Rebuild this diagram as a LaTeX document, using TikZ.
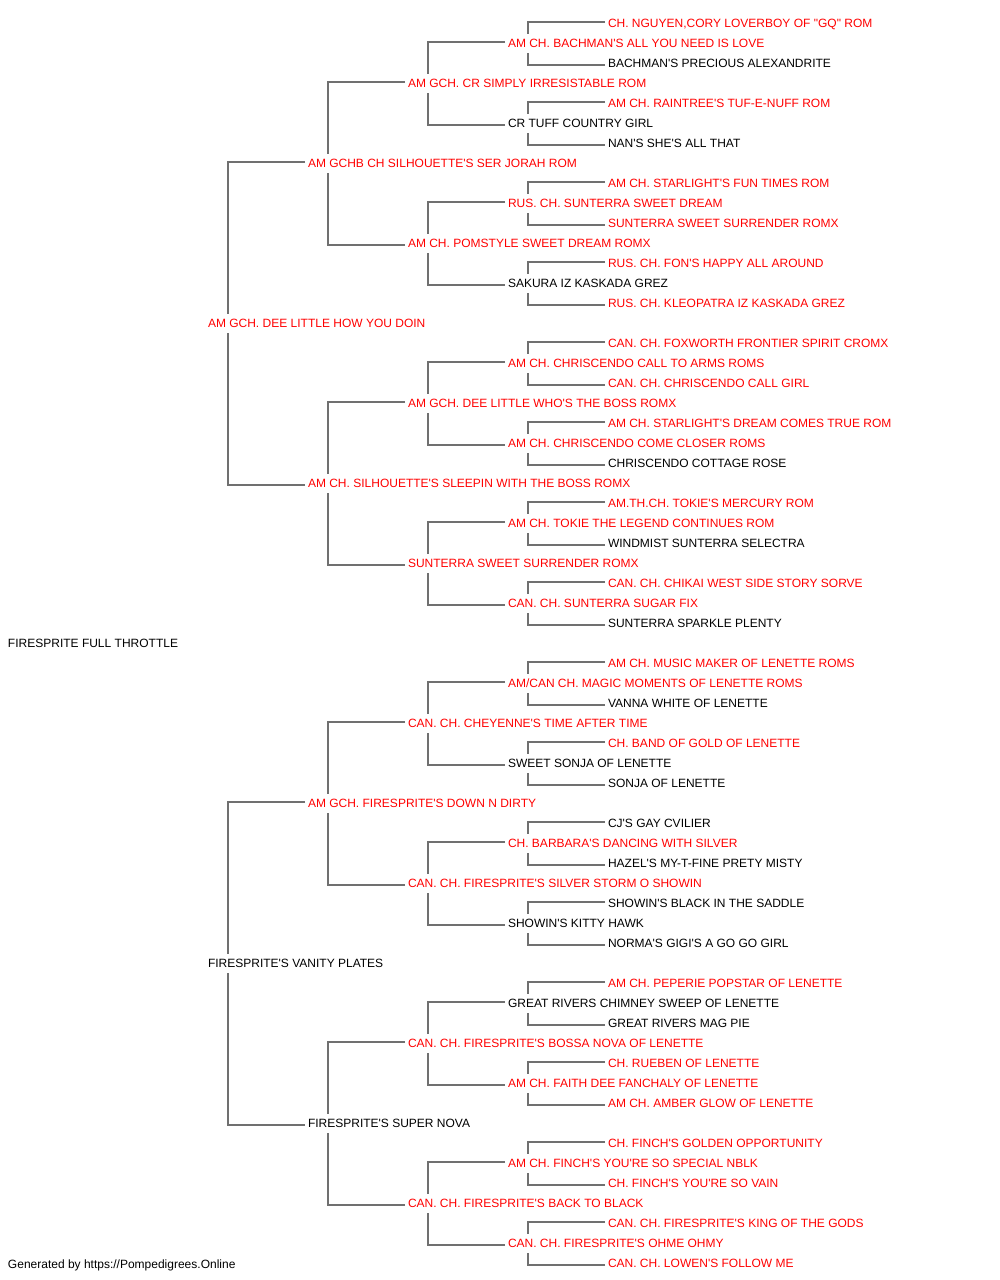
\documentclass[tikz,border=0pt]{standalone}
\usepackage{fontspec}
\newfontfamily\pedfont{Liberation Sans}
\definecolor{pedred}{HTML}{FF0000}
\definecolor{linegray}{HTML}{707070}
\tikzset{
  dog/.style={anchor=west, inner xsep=0pt, inner ysep=5pt, outer sep=0pt,
    text height=8.6pt, text depth=0pt, font=\pedfont\fontsize{12}{14}\selectfont},
  champ/.style={dog, text=pedred},
  link/.style={draw=linegray, line width=1.6pt}
}

\begin{document}
\begin{tikzpicture}[x=1pt,y=-1pt]
\useasboundingbox (0,0) rectangle (1000,1280);
% dog and its ancestors
\node[dog] (r) at (8,643.5) {FIRESPRITE FULL THROTTLE};

\node[champ] (s) at (208,323.5) {AM GCH. DEE LITTLE HOW YOU DOIN};
\node[dog]   (d) at (208,963.5) {FIRESPRITE'S VANITY PLATES};

\node[champ] (ss) at (308,163.5)  {AM GCHB CH SILHOUETTE'S SER JORAH ROM};
\node[champ] (sd) at (308,483.5)  {AM CH. SILHOUETTE'S SLEEPIN WITH THE BOSS ROMX};
\node[champ] (ds) at (308,803.5)  {AM GCH. FIRESPRITE'S DOWN N DIRTY};
\node[dog]   (dd) at (308,1123.5) {FIRESPRITE'S SUPER NOVA};

\node[champ] (sss) at (408,83.5)   {AM GCH. CR SIMPLY IRRESISTABLE ROM};
\node[champ] (ssd) at (408,243.5)  {AM CH. POMSTYLE SWEET DREAM ROMX};
\node[champ] (sds) at (408,403.5)  {AM GCH. DEE LITTLE WHO'S THE BOSS ROMX};
\node[champ] (sdd) at (408,563.5)  {SUNTERRA SWEET SURRENDER ROMX};
\node[champ] (dss) at (408,723.5)  {CAN. CH. CHEYENNE'S TIME AFTER TIME};
\node[champ] (dsd) at (408,883.5)  {CAN. CH. FIRESPRITE'S SILVER STORM O SHOWIN};
\node[champ] (dds) at (408,1043.5) {CAN. CH. FIRESPRITE'S BOSSA NOVA OF LENETTE};
\node[champ] (ddd) at (408,1203.5) {CAN. CH. FIRESPRITE'S BACK TO BLACK};

\node[champ] (ssss) at (508,43.5)   {AM CH. BACHMAN'S ALL YOU NEED IS LOVE};
\node[dog]   (sssd) at (508,123.5)  {CR TUFF COUNTRY GIRL};
\node[champ] (ssds) at (508,203.5)  {RUS. CH. SUNTERRA SWEET DREAM};
\node[dog]   (ssdd) at (508,283.5)  {SAKURA IZ KASKADA GREZ};
\node[champ] (sdss) at (508,363.5)  {AM CH. CHRISCENDO CALL TO ARMS ROMS};
\node[champ] (sdsd) at (508,443.5)  {AM CH. CHRISCENDO COME CLOSER ROMS};
\node[champ] (sdds) at (508,523.5)  {AM CH. TOKIE THE LEGEND CONTINUES ROM};
\node[champ] (sddd) at (508,603.5)  {CAN. CH. SUNTERRA SUGAR FIX};
\node[champ] (dsss) at (508,683.5)  {AM/CAN CH. MAGIC MOMENTS OF LENETTE ROMS};
\node[dog]   (dssd) at (508,763.5)  {SWEET SONJA OF LENETTE};
\node[champ] (dsds) at (508,843.5)  {CH. BARBARA'S DANCING WITH SILVER};
\node[dog]   (dsdd) at (508,923.5)  {SHOWIN'S KITTY HAWK};
\node[dog]   (ddss) at (508,1003.5) {GREAT RIVERS CHIMNEY SWEEP OF LENETTE};
\node[champ] (ddsd) at (508,1083.5) {AM CH. FAITH DEE FANCHALY OF LENETTE};
\node[champ] (ddds) at (508,1163.5) {AM CH. FINCH'S YOU'RE SO SPECIAL NBLK};
\node[champ] (dddd) at (508,1243.5) {CAN. CH. FIRESPRITE'S OHME OHMY};

\node[champ] (sssss) at (608,23.5)   {CH. NGUYEN,CORY LOVERBOY OF "GQ" ROM};
\node[dog]   (ssssd) at (608,63.5)   {BACHMAN'S PRECIOUS ALEXANDRITE};
\node[champ] (sssds) at (608,103.5)  {AM CH. RAINTREE'S TUF-E-NUFF ROM};
\node[dog]   (sssdd) at (608,143.5)  {NAN'S SHE'S ALL THAT};
\node[champ] (ssdss) at (608,183.5)  {AM CH. STARLIGHT'S FUN TIMES ROM};
\node[champ] (ssdsd) at (608,223.5)  {SUNTERRA SWEET SURRENDER ROMX};
\node[champ] (ssdds) at (608,263.5)  {RUS. CH. FON'S HAPPY ALL AROUND};
\node[champ] (ssddd) at (608,303.5)  {RUS. CH. KLEOPATRA IZ KASKADA GREZ};
\node[champ] (sdsss) at (608,343.5)  {CAN. CH. FOXWORTH FRONTIER SPIRIT CROMX};
\node[champ] (sdssd) at (608,383.5)  {CAN. CH. CHRISCENDO CALL GIRL};
\node[champ] (sdsds) at (608,423.5)  {AM CH. STARLIGHT'S DREAM COMES TRUE ROM};
\node[dog]   (sdsdd) at (608,463.5)  {CHRISCENDO COTTAGE ROSE};
\node[champ] (sddss) at (608,503.5)  {AM.TH.CH. TOKIE'S MERCURY ROM};
\node[dog]   (sddsd) at (608,543.5)  {WINDMIST SUNTERRA SELECTRA};
\node[champ] (sddds) at (608,583.5)  {CAN. CH. CHIKAI WEST SIDE STORY SORVE};
\node[dog]   (sdddd) at (608,623.5)  {SUNTERRA SPARKLE PLENTY};
\node[champ] (dssss) at (608,663.5)  {AM CH. MUSIC MAKER OF LENETTE ROMS};
\node[dog]   (dsssd) at (608,703.5)  {VANNA WHITE OF LENETTE};
\node[champ] (dssds) at (608,743.5)  {CH. BAND OF GOLD OF LENETTE};
\node[dog]   (dssdd) at (608,783.5)  {SONJA OF LENETTE};
\node[dog]   (dsdss) at (608,823.5)  {CJ'S GAY CVILIER};
\node[dog]   (dsdsd) at (608,863.5)  {HAZEL'S MY-T-FINE PRETY MISTY};
\node[dog]   (dsdds) at (608,903.5)  {SHOWIN'S BLACK IN THE SADDLE};
\node[dog]   (dsddd) at (608,943.5)  {NORMA'S GIGI'S A GO GO GIRL};
\node[champ] (ddsss) at (608,983.5)  {AM CH. PEPERIE POPSTAR OF LENETTE};
\node[dog]   (ddssd) at (608,1023.5) {GREAT RIVERS MAG PIE};
\node[champ] (ddsds) at (608,1063.5) {CH. RUEBEN OF LENETTE};
\node[champ] (ddsdd) at (608,1103.5) {AM CH. AMBER GLOW OF LENETTE};
\node[champ] (dddss) at (608,1143.5) {CH. FINCH'S GOLDEN OPPORTUNITY};
\node[champ] (dddsd) at (608,1183.5) {CH. FINCH'S YOU'RE SO VAIN};
\node[champ] (dddds) at (608,1223.5) {CAN. CH. FIRESPRITE'S KING OF THE GODS};
\node[champ] (ddddd) at (608,1263.5) {CAN. CH. LOWEN'S FOLLOW ME};

\node[dog] (credit) at (8,1264.5) {Generated by https://Pompedigrees.Online};

% sire above, dam below
\foreach \n in {s,d,ss,sd,ds,dd,sss,ssd,sds,sdd,dss,dsd,dds,ddd,
  ssss,sssd,ssds,ssdd,sdss,sdsd,sdds,sddd,dsss,dssd,dsds,dsdd,ddss,ddsd,ddds,dddd}
  \draw[link] ([shift={(-3,-1.5)}]\n s.west) -| ([xshift=20pt]\n.north west)
              ([shift={(-3,1.5)}]\n d.west) -| ([xshift=20pt]\n.south west);
\end{tikzpicture}
\end{document}
